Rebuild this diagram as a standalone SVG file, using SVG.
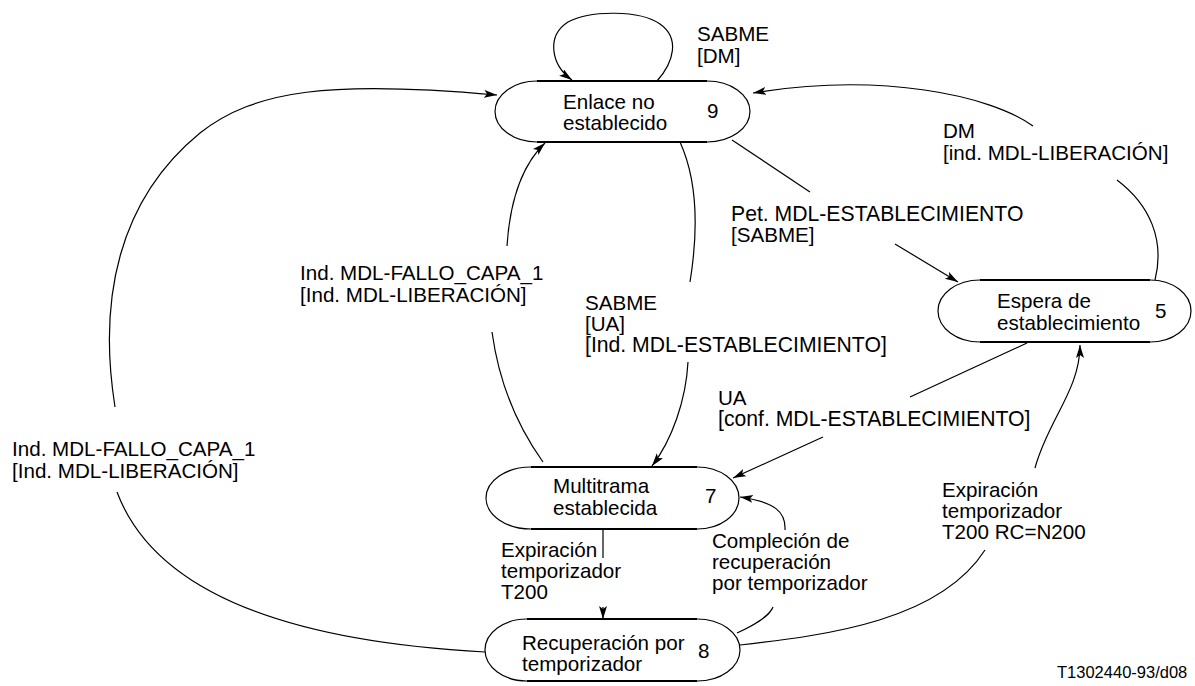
<svg xmlns="http://www.w3.org/2000/svg" width="1195" height="686" viewBox="0 0 1195 686">
<defs>
<style>
text{font-family:"Liberation Sans",Arial,sans-serif;font-size:20.6px;fill:#000}
text.u{font-size:21.2px}
.end{fill:#fff;stroke:#000;stroke-width:1.2}
.edge{fill:none;stroke:#000;stroke-width:2.2}
.c{fill:none;stroke:#000;stroke-width:1.2}
text.ref{font-size:16.5px}
</style>
<marker id="ah" markerUnits="userSpaceOnUse" markerWidth="14" markerHeight="10" refX="13" refY="4" orient="auto">
<path d="M0,0 L13,4 L0,8 L3,4 z" fill="#000"/>
</marker>
</defs>
<rect width="1195" height="686" fill="#fff"/>

<g id="connectors">
<path class="c" d="M657,81 C674,62 680,38 660,24 C640,10 590,10 568,22 C546,36 551,65 572,80" marker-end="url(#ah)"/>
<path class="c" d="M115,407 C98,300 118,200 200,133 C255,90 330,80 497,95" marker-end="url(#ah)"/>
<path class="c" d="M117,492 C150,580 260,640 485,652"/>
<path class="c" d="M507,246 C510,200 522,165 545,143" marker-end="url(#ah)"/>
<path class="c" d="M492,332 C500,390 520,430 543,462"/>
<path class="c" d="M680,142 C695,175 700,220 690,282"/>
<path class="c" d="M688,362 C686,400 672,440 652,466" marker-end="url(#ah)"/>
<path class="c" d="M732,140 L810,192"/>
<path class="c" d="M895,244 L958,282" marker-end="url(#ah)"/>
<path class="c" d="M1155,280 C1165,240 1150,205 1117,180"/>
<path class="c" d="M1033,126 C990,95 880,72 753,93" marker-end="url(#ah)"/>
<path class="c" d="M1027,343 L910,397"/>
<path class="c" d="M823,437 L733,478" marker-end="url(#ah)"/>
<path class="c" d="M603,529 L603,558"/>
<path class="c" d="M603,607 L603,619" marker-end="url(#ah)"/>
<path class="c" d="M737,633 C755,625 770,615 773,607"/>
<path class="c" d="M785,530 C786,512 775,502 740,497" marker-end="url(#ah)"/>
<path class="c" d="M740,645 C830,635 940,620 985,550"/>
<path class="c" d="M1035,468 C1048,420 1080,390 1080,345" marker-end="url(#ah)"/>
</g>

<g id="labels">
<text x="697" y="41">SABME</text><text x="697" y="63">[DM]</text>
<text x="943" y="138">DM</text><text x="943" y="160">[ind. MDL-LIBERACIÓN]</text>
<text class="u" x="731" y="221">Pet. MDL-ESTABLECIMIENTO</text><text x="731" y="242">[SABME]</text>
<text x="300" y="280">Ind. MDL-FALLO_CAPA_1</text><text x="300" y="302">[Ind. MDL-LIBERACIÓN]</text>
<text x="585" y="310">SABME</text><text x="585" y="331">[UA]</text><text class="u" x="585" y="352">[Ind. MDL-ESTABLECIMIENTO]</text>
<text x="718" y="405">UA</text><text class="u" x="718" y="426">[conf. MDL-ESTABLECIMIENTO]</text>
<text x="12" y="456">Ind. MDL-FALLO_CAPA_1</text><text x="12" y="478">[Ind. MDL-LIBERACIÓN]</text>
<text x="942" y="497">Expiración</text><text x="942" y="518">temporizador</text><text x="942" y="539">T200 RC=N200</text>
<text x="712" y="548">Compleción de</text><text x="712" y="569">recuperación</text><text x="712" y="590">por temporizador</text>
<text x="501" y="557">Expiración</text><text x="501" y="578">temporizador</text><text x="501" y="599">T200</text>
<text class="ref" x="1057" y="678">T1302440-93/d08</text>
</g>

<g id="node9">
<path class="end" d="M537,81 L707,81 A43,30.5 0 0 1 707,142 L537,142 A42,30.5 0 0 1 537,81 Z"/>
<path class="edge" d="M537,81 L707,81 M537,142 L707,142"/>
<text x="563" y="109">Enlace no</text><text x="563" y="130">establecido</text><text x="707" y="118">9</text>
</g>

<g id="node5">
<path class="end" d="M980,280 L1150,280 A41,31 0 0 1 1150,342 L980,342 A42,31 0 0 1 980,280 Z"/>
<path class="edge" d="M980,280 L1150,280 M980,342 L1150,342"/>
<text x="997" y="308">Espera de</text><text x="997" y="330">establecimiento</text><text x="1155" y="318">5</text>
</g>

<g id="node7">
<path class="end" d="M531,467 L697,467 A42,31 0 0 1 697,529 L531,529 A45,31 0 0 1 531,467 Z"/>
<path class="edge" d="M531,467 L697,467 M531,529 L697,529"/>
<text x="553" y="493">Multitrama</text><text x="553" y="515">establecida</text><text x="705" y="503">7</text>
</g>

<g id="node8">
<path class="end" d="M527,619 L697,619 A43,31 0 0 1 697,681 L527,681 A42,31 0 0 1 527,619 Z"/>
<path class="edge" d="M527,619 L697,619 M527,681 L697,681"/>
<text x="522" y="650">Recuperación por</text><text x="522" y="671">temporizador</text><text x="698" y="658">8</text>
</g>
</svg>
